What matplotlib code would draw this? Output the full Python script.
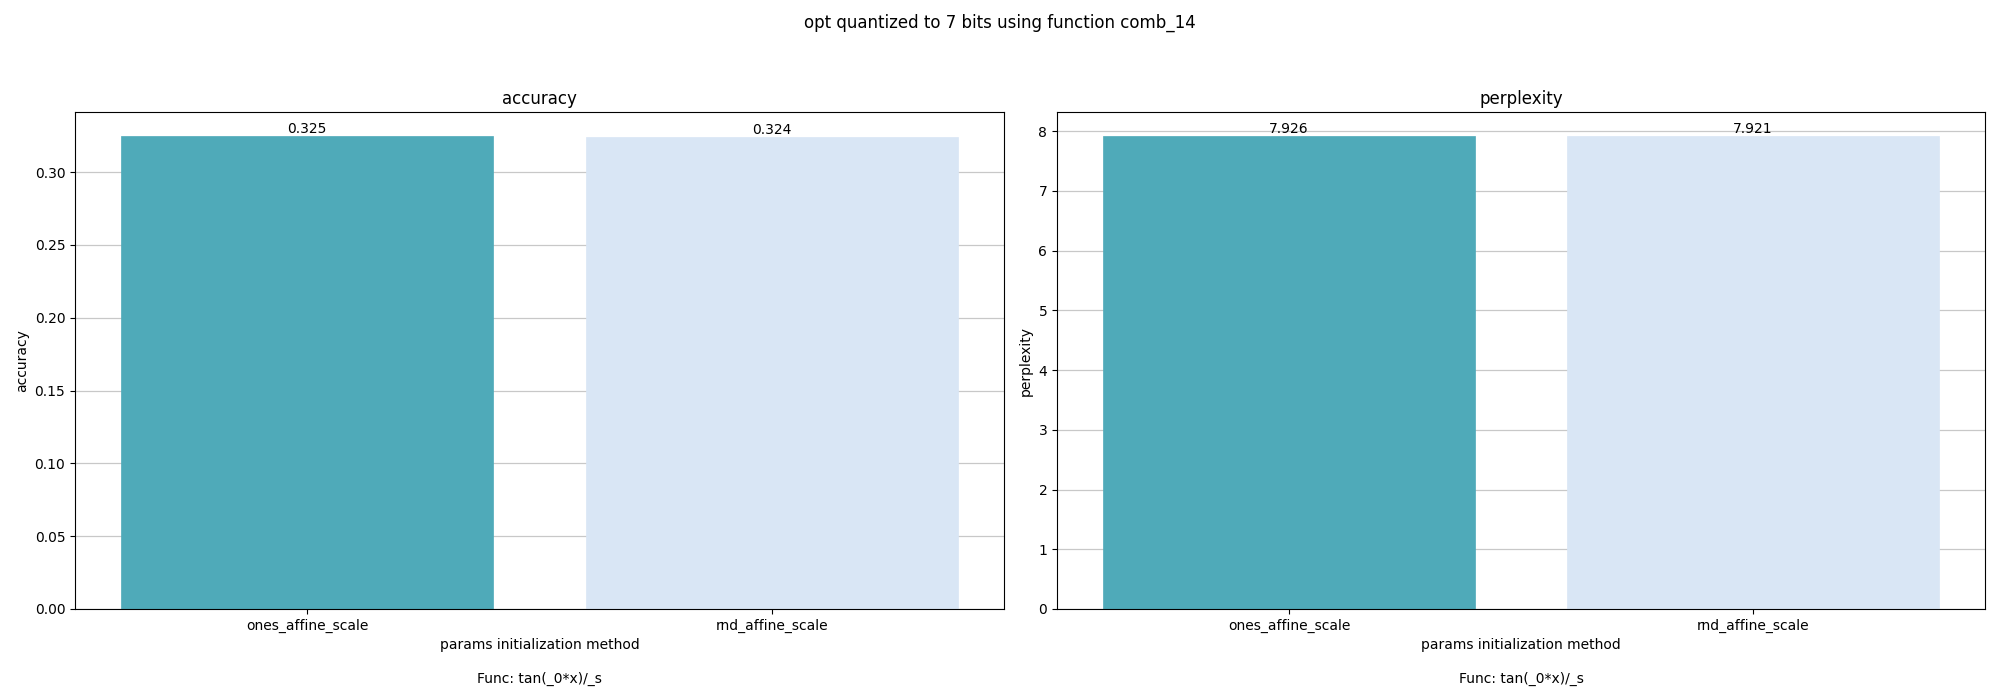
import matplotlib
matplotlib.use("Agg")
import matplotlib.pyplot as plt

methods = ["ones_affine_scale", "rnd_affine_scale"]
accuracy = [0.325, 0.324]
perplexity = [7.926, 7.921]
colors = ["#4FAAB9", "#D9E6F5"]

fig = plt.figure(figsize=(20, 7), dpi=100)
ax1 = fig.add_axes([0.0375, 0.13, 0.4645, 0.71])
ax2 = fig.add_axes([0.5285, 0.13, 0.4640, 0.71])
axes = [ax1, ax2]
fig.suptitle("opt quantized to 7 bits using function comb_14", y=0.98)

for ax, vals, name in zip(axes, [accuracy, perplexity], ["accuracy", "perplexity"]):
    ax.set_axisbelow(True)
    ax.yaxis.grid(True, color="#c8c8c8", linewidth=0.9)
    bars = ax.bar(range(len(methods)), vals, width=0.8, color=colors,
                  edgecolor=colors, linewidth=0.5)
    ax.bar_label(bars, fmt="%.3f")
    ax.set_xticks(range(len(methods)))
    ax.set_xticklabels(methods)
    ax.set_xlim(-0.5, 1.5)
    ax.set_title(name)
    ax.set_ylabel(name)
    ax.set_xlabel("params initialization method")
    ax.text(0.5, -0.14, "Func: tan(_0*x)/_s", transform=ax.transAxes,
            ha="center", va="center")

fig.savefig("out.png")
